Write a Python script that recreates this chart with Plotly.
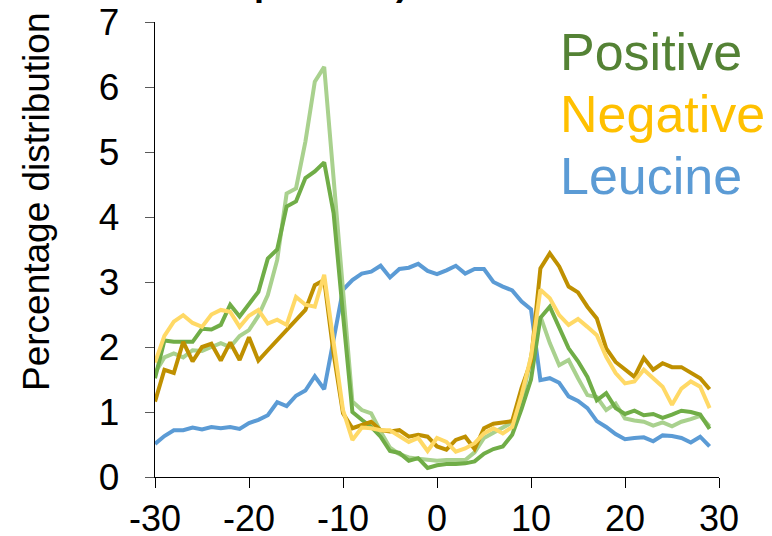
import plotly.graph_objects as go

# Residue position relative to the reference site
positions = list(range(-30, 30))

leucine = [0.51, 0.63, 0.72, 0.72, 0.76, 0.73, 0.77, 0.75, 0.77, 0.74,
           0.83, 0.88, 0.95, 1.15, 1.09, 1.25, 1.33, 1.55, 1.35, 2.10,
           2.88, 3.03, 3.13, 3.16, 3.25, 3.07, 3.20, 3.22, 3.28, 3.17,
           3.12, 3.18, 3.25, 3.13, 3.20, 3.20, 3.00, 2.93, 2.87, 2.70,
           2.58, 1.49, 1.52, 1.45, 1.24, 1.17, 1.06, 0.86, 0.77, 0.66,
           0.58, 0.60, 0.61, 0.55, 0.64, 0.63, 0.60, 0.53, 0.62, 0.47]

positive_light = [1.60, 1.84, 1.90, 1.84, 1.95, 1.94, 2.00, 2.06, 2.00, 2.17,
                  2.26, 2.48, 2.80, 3.34, 4.36, 4.44, 5.16, 6.08, 6.31, 4.60,
                  2.88, 1.16, 1.03, 0.98, 0.70, 0.45, 0.35, 0.30, 0.28, 0.26,
                  0.25, 0.26, 0.26, 0.26, 0.38, 0.60, 0.68, 0.76, 0.84, 1.15,
                  1.85, 2.47, 2.06, 1.72, 1.80, 1.52, 1.26, 1.23, 1.03, 1.13,
                  0.90, 0.87, 0.85, 0.79, 0.84, 0.78, 0.85, 0.89, 0.94, 0.78]

positive_dark = [1.52, 2.10, 2.08, 2.08, 2.08, 2.28, 2.27, 2.34, 2.65, 2.47,
                 2.65, 2.85, 3.36, 3.50, 4.16, 4.24, 4.60, 4.70, 4.84, 4.06,
                 2.50, 1.00, 0.88, 0.77, 0.62, 0.40, 0.37, 0.25, 0.29, 0.14,
                 0.18, 0.20, 0.20, 0.21, 0.24, 0.36, 0.43, 0.47, 0.65, 1.05,
                 1.50, 2.45, 2.62, 2.29, 1.98, 1.78, 1.54, 1.18, 1.29, 1.06,
                 0.97, 1.02, 0.95, 0.97, 0.91, 0.96, 1.02, 1.00, 0.96, 0.74]

negative_dark = [1.16, 1.65, 1.60, 2.08, 1.78, 2.00, 2.05, 1.79, 2.07, 1.80,
                 2.15, 1.79, 1.95, 2.10, 2.26, 2.42, 2.57, 2.95, 3.03, 1.90,
                 0.98, 0.75, 0.80, 0.85, 0.72, 0.70, 0.72, 0.62, 0.65, 0.62,
                 0.47, 0.42, 0.57, 0.62, 0.43, 0.75, 0.82, 0.84, 0.86, 1.37,
                 1.78, 3.21, 3.44, 3.24, 2.93, 2.84, 2.62, 2.44, 1.98, 1.77,
                 1.65, 1.54, 1.83, 1.65, 1.75, 1.69, 1.69, 1.60, 1.52, 1.35]

negative_light = [1.76, 2.17, 2.39, 2.49, 2.37, 2.31, 2.50, 2.57, 2.54, 2.31,
                  2.48, 2.57, 2.36, 2.42, 2.34, 2.77, 2.65, 2.62, 3.11, 2.10,
                  1.03, 0.57, 0.76, 0.75, 0.72, 0.72, 0.63, 0.54, 0.60, 0.40,
                  0.60, 0.54, 0.39, 0.44, 0.52, 0.67, 0.75, 0.67, 0.77, 1.26,
                  1.85, 2.88, 2.75, 2.49, 2.34, 2.43, 2.31, 2.18, 1.85, 1.60,
                  1.44, 1.47, 1.65, 1.52, 1.39, 1.11, 1.36, 1.47, 1.39, 1.06]

x_ticks = [-30, -20, -10, 0, 10, 20, 30]
y_ticks = [0, 1, 2, 3, 4, 5, 6, 7]

legend_labels = ["Positive", "Negative", "Leucine"]
legend_colors = ["#548235", "#FFC000", "#5B9BD5"]

FONT = "Liberation Sans, Arial, sans-serif"

fig = go.Figure()
series = [
    (leucine, "#5B9BD5"),
    (positive_light, "#A9D18E"),
    (positive_dark, "#70AD47"),
    (negative_dark, "#BF9000"),
    (negative_light, "#FFD966"),
]
for values, color in series:
    fig.add_trace(go.Scatter(x=positions, y=values, mode="lines",
                             line=dict(color=color, width=4),
                             showlegend=False, hoverinfo="skip"))

# Plot area geometry in pixels (used to place free text in paper units)
W, H = 772, 536
L, R, T, B = 155, 53, 22, 59
pw, ph = W - L - R, H - T - B


def px_x(x):
    return (x - L) / pw


def px_y(y):
    return (H - B - y) / ph


fig.update_layout(
    width=W, height=H,
    margin=dict(l=L, r=R, t=T, b=B, pad=0, autoexpand=False),
    paper_bgcolor="white", plot_bgcolor="white",
    font=dict(family=FONT, color="black"),
    xaxis=dict(range=[-30, 30], tickvals=x_ticks, ticktext=[str(v) for v in x_ticks],
               automargin=False,
               showgrid=False, zeroline=False, showline=True, linecolor="black",
               linewidth=1.3, ticks="outside", ticklen=10, tickwidth=1.3,
               tickcolor="black", ticklabelstandoff=0,
               tickfont=dict(size=36, family=FONT, color="black")),
    yaxis=dict(range=[0, 7], tickvals=y_ticks, showgrid=False, zeroline=False,
               automargin=False,
               showline=True, linecolor="black", linewidth=1.3, ticks="outside",
               ticklen=9, tickwidth=1.3, tickcolor="#595959",
               ticklabelstandoff=18,
               tickfont=dict(size=37, family=FONT, color="black")),
)

annotations = [
    dict(text="Percentage distribution", textangle=-90, xref="paper", yref="paper",
         x=px_x(36), y=px_y(202), xanchor="center", yanchor="middle",
         showarrow=False, font=dict(size=37, family=FONT, color="black")),
    dict(text="<b>proteins)</b>", xref="paper", yref="paper",
         x=px_x(252), y=px_y(-18), xanchor="left", yanchor="middle",
         showarrow=False, font=dict(size=36, family=FONT, color="black")),
]
for i, (label, color) in enumerate(zip(legend_labels, legend_colors)):
    annotations.append(dict(text=label, xref="paper", yref="paper",
                            x=px_x(558), y=px_y(52 + 62 * i),
                            xanchor="left", yanchor="middle", showarrow=False,
                            font=dict(size=52, family=FONT, color=color)))
fig.update_layout(annotations=annotations)

fig.write_html("out.html")
